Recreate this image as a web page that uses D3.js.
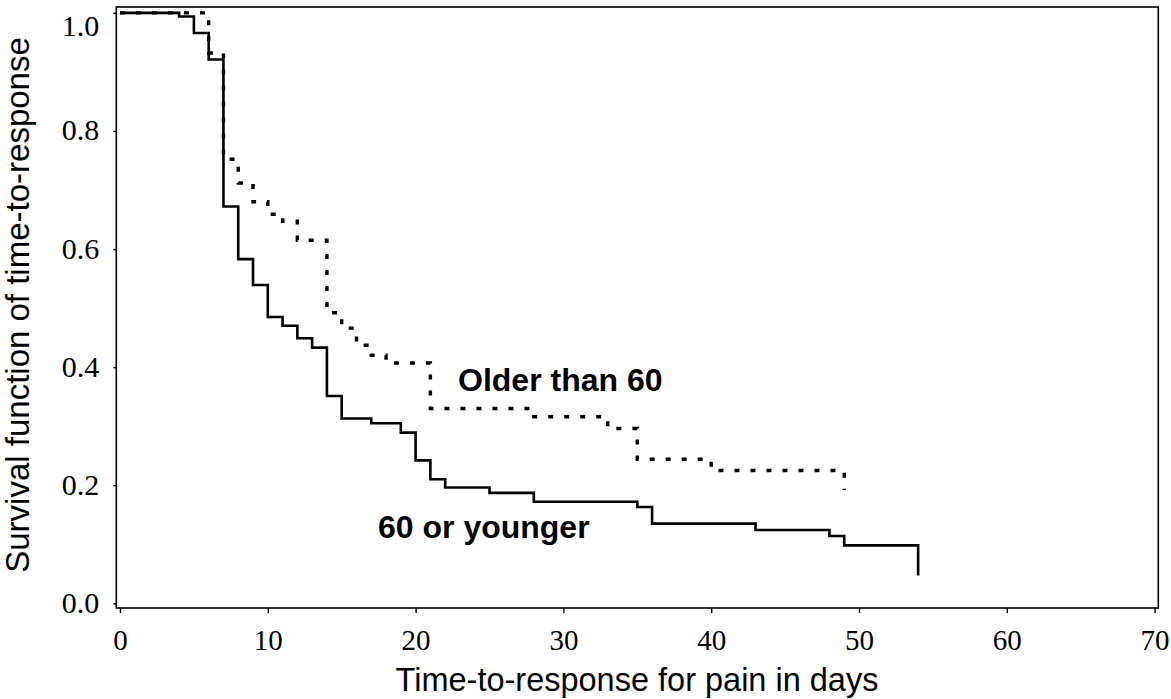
<!DOCTYPE html>
<html>
<head>
<meta charset="utf-8">
<script src="https://cdn.jsdelivr.net/npm/d3@7"></script>
<style>
  html, body { margin: 0; padding: 0; background: #fff; }
  svg { display: block; }
</style>
</head>
<body>
<svg id="chart" width="1171" height="699"></svg>
<script>
// Kaplan–Meier survival estimates of time-to-response for pain, by age group
const youngDays     = [0, 4, 5, 6, 7, 8, 9, 10, 11, 12, 13, 14, 15, 17, 19, 20, 21, 22, 25, 28, 35, 36, 43, 48, 49, 54];
const youngSurvival = [1.0, 0.994, 0.966, 0.921, 0.672, 0.583, 0.539, 0.485, 0.470, 0.449, 0.433, 0.351, 0.313, 0.305, 0.289, 0.242, 0.210, 0.196, 0.187, 0.172, 0.163, 0.135, 0.124, 0.114, 0.098, 0.047];

const olderDays     = [0, 6, 7, 8, 9, 10, 11, 12, 14, 15, 16, 17, 18, 21, 28, 33, 35, 40, 49];
const olderSurvival = [1.0, 0.932, 0.752, 0.712, 0.680, 0.659, 0.647, 0.615, 0.492, 0.466, 0.437, 0.420, 0.407, 0.330, 0.316, 0.296, 0.244, 0.225, 0.192];

const xTicks = [0, 10, 20, 30, 40, 50, 60, 70];
const yTicks = [0.0, 0.2, 0.4, 0.6, 0.8, 1.0];

const groupLabels = ["60 or younger", "Older than 60"];
const xTitle = "Time-to-response for pain in days";
const yTitle = "Survival function of time-to-response";

const svg = d3.select("#chart");

const x = d3.scaleLinear().domain([-0.25, 70.25]).range([116.3, 1158.3]);
const y = d3.scaleLinear().domain([-0.008, 1.01]).range([608, 7]);

const serif = "'Liberation Serif', 'Times New Roman', serif";
const sans = "'Liberation Sans', Arial, sans-serif";

// plot frame
svg.append("rect")
  .attr("x", x(-0.25)).attr("y", y(1.01))
  .attr("width", x(70.25) - x(-0.25))
  .attr("height", y(-0.008) - y(1.01))
  .attr("fill", "none").attr("stroke", "#000").attr("stroke-width", 1.6);

// x axis
const xAxis = svg.append("g")
  .attr("transform", `translate(0,${y(-0.008)})`)
  .call(d3.axisBottom(x).tickValues(xTicks).tickFormat(d3.format("d")).tickSize(5).tickPadding(16));
xAxis.select(".domain").remove();
xAxis.selectAll(".tick line").attr("stroke", "#000").attr("stroke-width", 1.4);
xAxis.selectAll(".tick text")
  .attr("font-family", serif).attr("font-size", 29).attr("fill", "#000");

// y axis
const yAxis = svg.append("g")
  .attr("transform", `translate(${x(-0.25)},0)`)
  .call(d3.axisLeft(y).tickValues(yTicks).tickFormat(d3.format(".1f")).tickSize(3).tickPadding(14));
yAxis.select(".domain").remove();
yAxis.selectAll(".tick line").attr("stroke", "#000").attr("stroke-width", 1.4);
yAxis.selectAll(".tick text")
  .attr("font-family", serif).attr("font-size", 30).attr("fill", "#000")
  .attr("dy", d => d === 1 ? "0.75em" : "0.3em");

// step curves
const stepLine = d3.line()
  .x(d => x(d[0]))
  .y(d => y(d[1]))
  .curve(d3.curveStepAfter);

const youngPts = youngDays.map((d, i) => [d, youngSurvival[i]]);
const olderPts = olderDays.map((d, i) => [d, olderSurvival[i]]);

svg.append("path")
  .attr("d", stepLine(youngPts))
  .attr("fill", "none").attr("stroke", "#000")
  .attr("stroke-width", 2.6).attr("stroke-linejoin", "miter");

svg.append("path")
  .attr("d", stepLine(olderPts))
  .attr("fill", "none").attr("stroke", "#000")
  .attr("stroke-width", 3.4)
  .attr("stroke-dasharray", "5,11")
  .attr("stroke-linecap", "butt");

// group labels
svg.append("text")
  .attr("x", 458).attr("y", 391)
  .attr("font-family", sans).attr("font-size", 32).attr("font-weight", "bold")
  .text(groupLabels[1]);
svg.append("text")
  .attr("x", 378).attr("y", 538)
  .attr("font-family", sans).attr("font-size", 32).attr("font-weight", "bold")
  .text(groupLabels[0]);

// axis titles
svg.append("text")
  .attr("x", 637).attr("y", 691)
  .attr("text-anchor", "middle")
  .attr("font-family", sans).attr("font-size", 32.5)
  .text(xTitle);
svg.append("text")
  .attr("transform", "translate(29,305) rotate(-90)")
  .attr("text-anchor", "middle")
  .attr("font-family", sans).attr("font-size", 33)
  .text(yTitle);
</script>
</body>
</html>
